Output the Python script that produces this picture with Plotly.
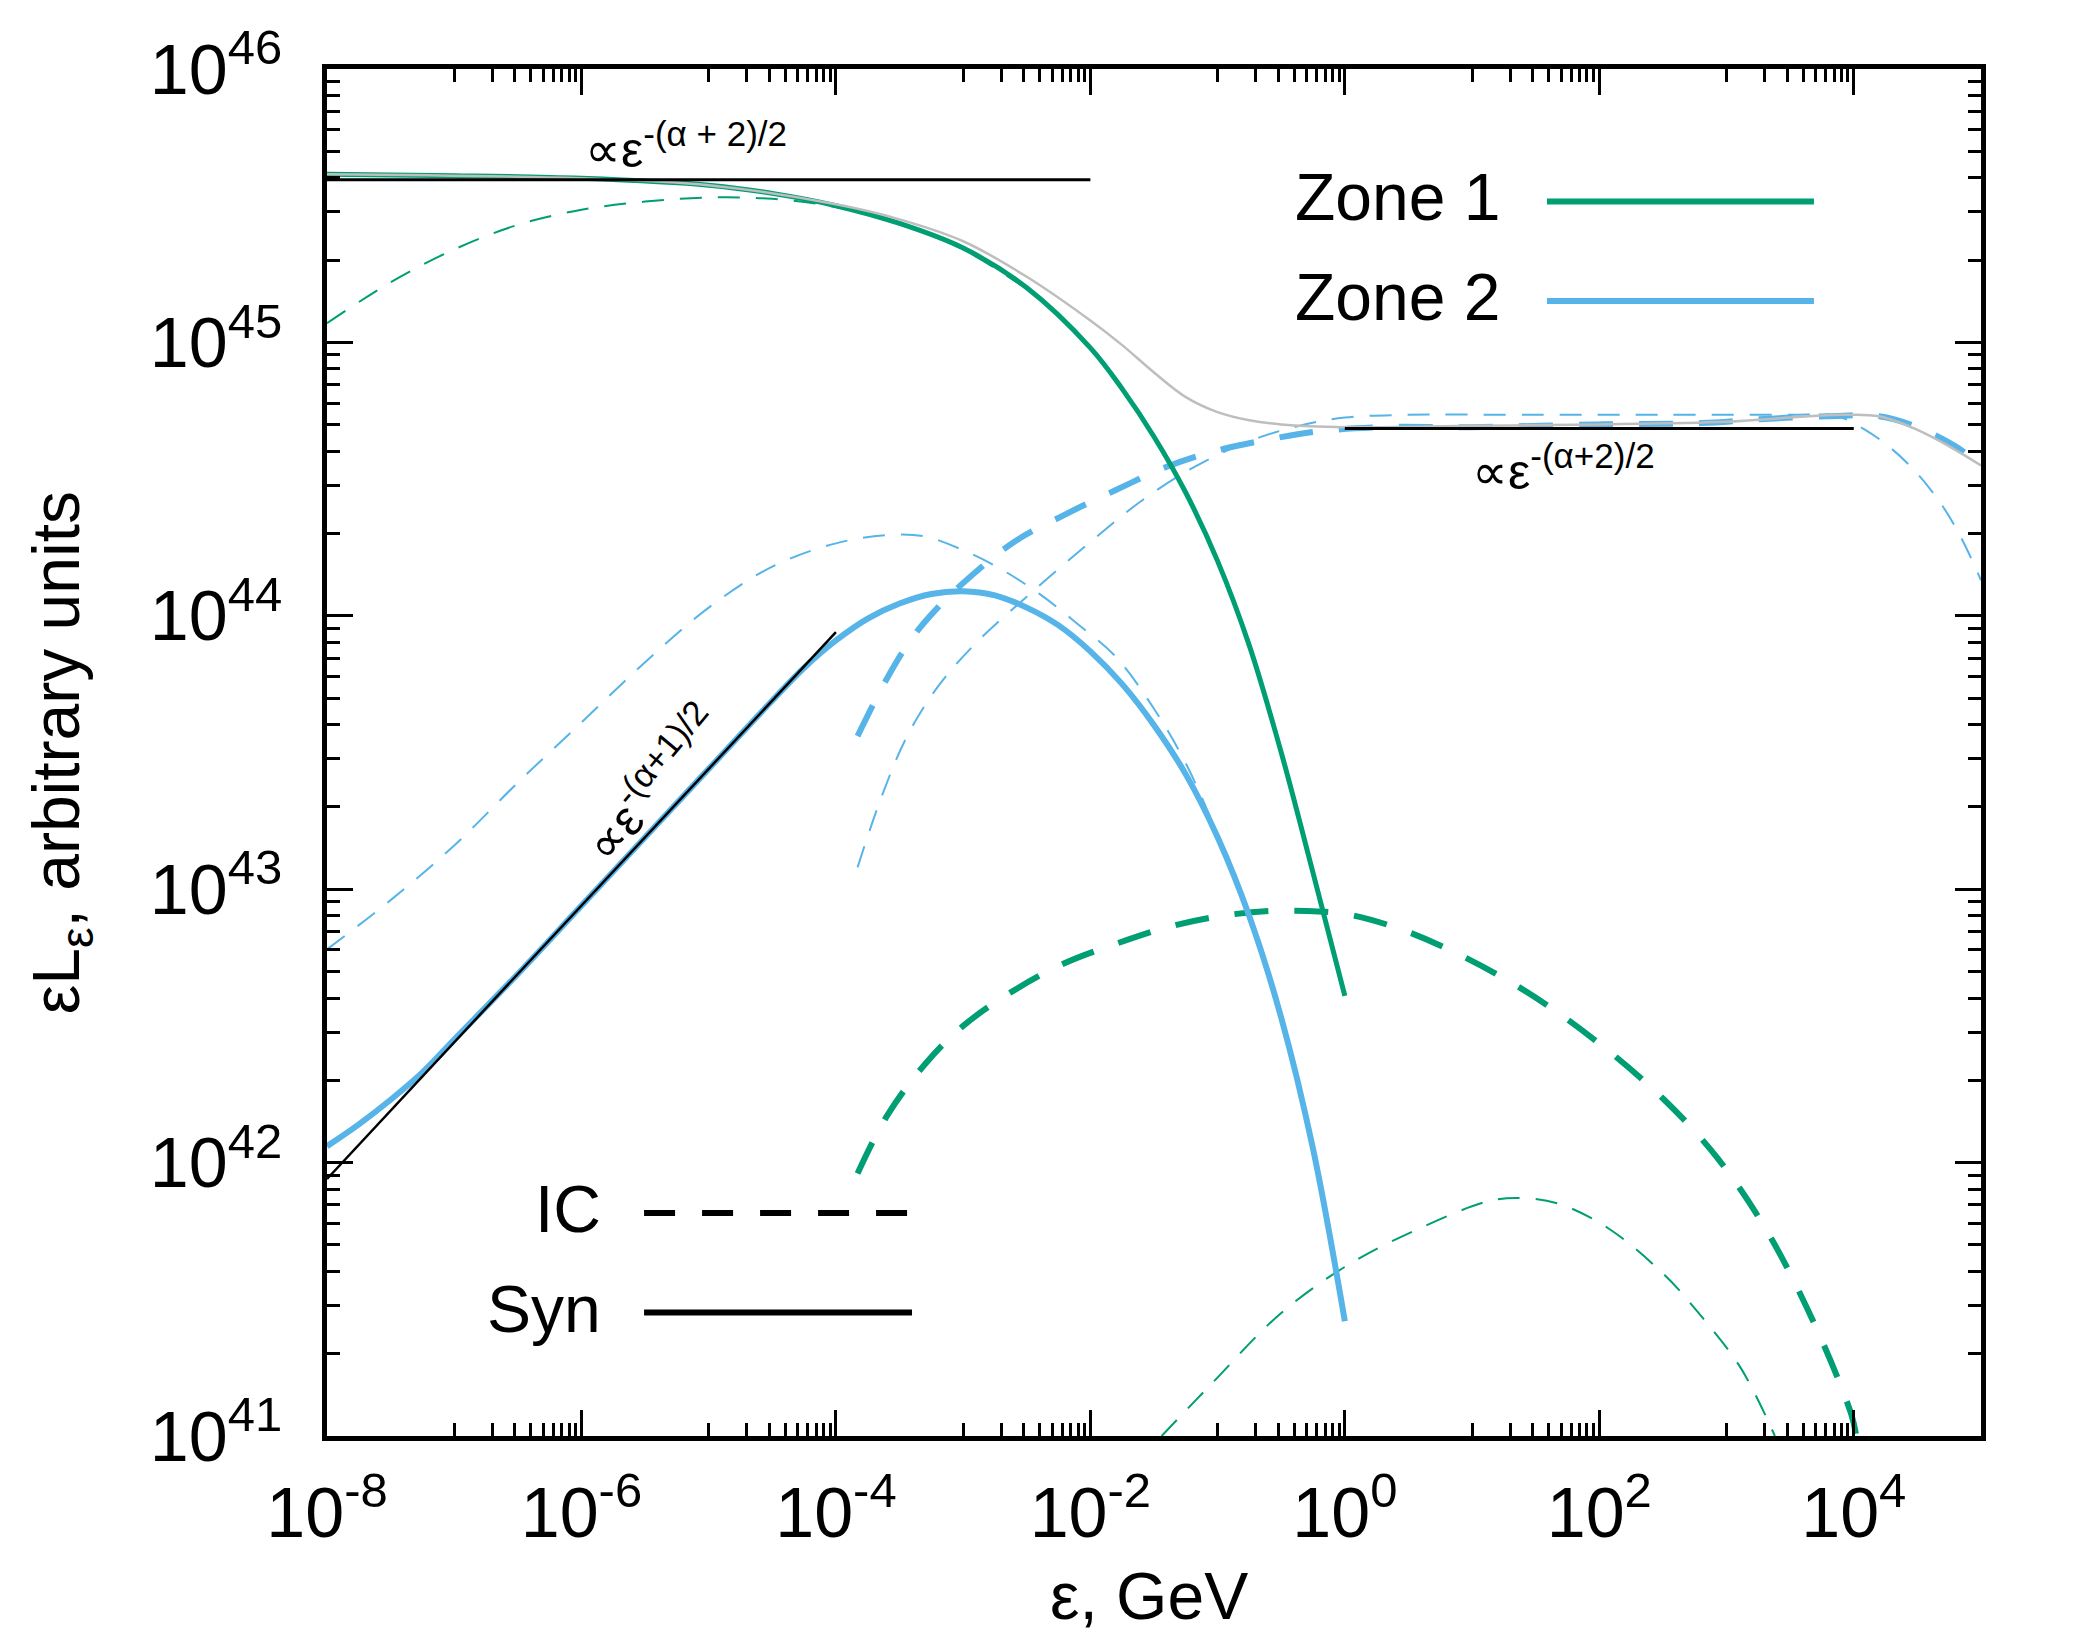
import numpy as np
import plotly.graph_objects as go

# values: log10(eps / GeV) and log10(eps L_eps)
syn1_loge = [-8, -7, -6, -5, -4.5, -4, -3.5, -3, -2.5, -2, -1.75, -1.5, -1.25, -1, -0.75, -0.5, -0.25, 0]
syn1_logl = [45.615, 45.61, 45.6, 45.575, 45.545, 45.5, 45.435, 45.345, 45.2, 44.98, 44.83, 44.655, 44.45, 44.2, 43.89, 43.5, 43.06, 42.61]

syn1_part_loge = [-8, -7.5, -7, -6.5, -6, -5.5, -5, -4.5, -4, -3.5, -3, -2.5]
syn1_part_logl = [45.07, 45.22, 45.34, 45.43, 45.485, 45.515, 45.53, 45.525, 45.495, 45.435, 45.34, 45.195]

ic1_loge = [-3.83, -3.6, -3.3, -3.0, -2.6, -2.2, -1.8, -1.4, -1.0, -0.6, -0.3, 0, 0.4, 0.86, 1.41, 1.96, 2.51, 2.94, 3.33, 3.71, 3.98, 4.02]
ic1_logl = [41.96, 42.17, 42.36, 42.5, 42.63, 42.73, 42.8, 42.86, 42.9, 42.92, 42.92, 42.91, 42.86, 42.77, 42.63, 42.45, 42.23, 42.01, 41.74, 41.39, 41.08, 41.0]

ic1_part_loge = [-1.44, -1.05, -0.5, 0.04, 0.59, 1.14, 1.41, 1.68, 2.07, 2.51, 2.78, 3.11, 3.38]
ic1_part_logl = [41.0, 41.19, 41.45, 41.63, 41.76, 41.86, 41.87, 41.85, 41.76, 41.59, 41.45, 41.25, 41.0]

syn2_loge = [-8, -7.75, -7.5, -7.25, -7, -6.5, -6, -5.5, -5, -4.5, -4.25, -4, -3.75, -3.5, -3.25, -3, -2.75, -2.5, -2.25, -2, -1.75, -1.5, -1.25, -1, -0.75, -0.5, -0.25, 0]
syn2_logl = [42.06, 42.14, 42.23, 42.33, 42.45, 42.69, 42.94, 43.19, 43.44, 43.69, 43.81, 43.91, 43.99, 44.045, 44.08, 44.09, 44.075, 44.03, 43.965, 43.87, 43.75, 43.6, 43.42, 43.19, 42.9, 42.53, 42.05, 41.42]

syn2_part_loge = [-8, -7.5, -7, -6.5, -6, -5.5, -5, -4.5, -4, -3.6, -3.3, -3, -2.7, -2.4, -2.1, -1.8, -1.5, -1.25, -1, -0.75, -0.5, -0.25, 0]
syn2_part_logl = [42.78, 42.96, 43.16, 43.39, 43.61, 43.83, 44.03, 44.18, 44.265, 44.295, 44.29, 44.24, 44.17, 44.08, 43.97, 43.85, 43.66, 43.46, 43.2, 42.91, 42.54, 42.06, 41.43]

ic2_loge = [-3.83, -3.6, -3.4, -3.2, -3.0, -2.6, -2.2, -1.8, -1.4, -1.0, -0.6, -0.2, 0.3, 1, 2, 2.8, 3.3, 3.8, 4.2, 4.5, 4.8, 5]
ic2_logl = [43.56, 43.77, 43.92, 44.03, 44.12, 44.27, 44.37, 44.46, 44.545, 44.605, 44.645, 44.675, 44.69, 44.69, 44.7, 44.705, 44.72, 44.73, 44.73, 44.69, 44.62, 44.55]

ic2_part_loge = [-3.83, -3.64, -3.44, -3.2, -2.9, -2.5, -2.0, -1.6, -1.2, -0.8, -0.4, 0, 0.5, 1.5, 2.5, 3.5, 3.87, 4.09, 4.3, 4.5, 4.7, 4.85, 5]
ic2_part_logl = [43.08, 43.34, 43.56, 43.74, 43.9, 44.07, 44.27, 44.42, 44.54, 44.63, 44.69, 44.725, 44.735, 44.735, 44.735, 44.735, 44.73, 44.68, 44.61, 44.52, 44.4, 44.28, 44.13]

total_loge = [-8, -6, -5, -4, -3.5, -3, -2.5, -2, -1.75, -1.5, -1.25, -1, -0.75, -0.5, 0, 1, 2, 3, 3.5, 3.9, 4.2, 4.5, 4.75, 5]
total_logl = [45.615, 45.6, 45.575, 45.505, 45.45, 45.37, 45.24, 45.08, 44.99, 44.89, 44.8, 44.745, 44.715, 44.7, 44.69, 44.695, 44.7, 44.71, 44.725, 44.735, 44.73, 44.68, 44.62, 44.55]

# power-law guides
flat_hi_loge = [-8, -2]
flat_hi_logl = [45.595, 45.595]
flat_lo_loge = [0, 4]
flat_lo_logl = [44.685, 44.685]
slope_loge = [-8, -4]
slope_logl = [41.94, 43.94]

x_major = [-8, -6, -4, -2, 0, 2, 4]
x_minor_decades = [-7, -5, -3, -1, 1, 3]
y_major = [41, 42, 43, 44, 45, 46]

green = "#009E73"
blue = "#56B4E9"
grey = "#BEBEBE"
FONT = "Liberation Sans"


def curve(loge, logl, color, width, dash="solid"):
    return go.Scatter(
        x=10 ** np.array(loge, dtype=float),
        y=10 ** np.array(logl, dtype=float),
        mode="lines",
        line=dict(color=color, width=width, dash=dash, shape="spline", smoothing=1.0),
        showlegend=False,
        hoverinfo="skip",
    )


thin = "22px,16px"
thick = "34px,26px"

fig = go.Figure()
fig.add_trace(curve(syn1_part_loge, syn1_part_logl, green, 2, thin))
fig.add_trace(curve(ic1_part_loge, ic1_part_logl, green, 2, thin))
fig.add_trace(curve(syn2_part_loge, syn2_part_logl, blue, 2, thin))
fig.add_trace(curve(ic2_part_loge, ic2_part_logl, blue, 2, thin))
fig.add_trace(curve(ic2_loge, ic2_logl, blue, 6, thick))
fig.add_trace(curve(ic1_loge, ic1_logl, green, 6, thick))
fig.add_trace(curve(syn2_loge, syn2_logl, blue, 6))
fig.add_trace(curve(syn1_loge, syn1_logl, green, 5))
fig.add_trace(curve(total_loge, total_logl, grey, 2.5))
fig.add_trace(curve(flat_hi_loge, flat_hi_logl, "black", 3))
fig.add_trace(curve(flat_lo_loge, flat_lo_logl, "black", 3))
fig.add_trace(curve(slope_loge, slope_logl, "black", 2.5))

axis_common = dict(
    type="log",
    showline=True,
    linewidth=4.5,
    linecolor="black",
    mirror="ticks",
    ticks="inside",
    ticklen=26,
    tickwidth=3,
    tickcolor="black",
    showgrid=False,
    zeroline=False,
    tickfont=dict(family=FONT, size=70, color="black"),
)

fig.update_xaxes(
    **axis_common,
    range=[-8, 5],
    tickvals=[10.0 ** e for e in x_major],
    ticktext=[f"10<sup>{e}</sup>" for e in x_major],
    ticklabelstandoff=12,
    minor=dict(
        tickvals=[k * 10.0 ** e for e in x_minor_decades for k in range(1, 10)],
        ticks="inside", ticklen=13, tickwidth=3, tickcolor="black", showgrid=False,
    ),
)
fig.update_yaxes(
    **axis_common,
    range=[41, 46],
    tickvals=[10.0 ** e for e in y_major],
    ticktext=[f"10<sup>{e}</sup>" for e in y_major],
    ticklabelstandoff=26,
    minor=dict(
        tickvals=[k * 10.0 ** e for e in y_major[:-1] for k in range(2, 10)],
        ticks="inside", ticklen=13, tickwidth=3, tickcolor="black", showgrid=False,
    ),
)

txt = dict(family=FONT, size=66, color="black")
note = dict(family=FONT, size=50, color="black")

annotations = [
    dict(text="εL<sub>ε</sub>, arbitrary units", xref="paper", yref="paper", x=-0.161, y=0.5,
         textangle=-90, showarrow=False, font=txt, xanchor="center", yanchor="middle"),
    dict(text="ε, GeV", xref="paper", yref="paper", x=0.497, y=-0.117,
         showarrow=False, font=txt, xanchor="center", yanchor="middle"),
    dict(text="Zone 1", xref="paper", yref="paper", x=0.7104, y=0.906,
         showarrow=False, font=txt, xanchor="right", yanchor="middle"),
    dict(text="Zone 2", xref="paper", yref="paper", x=0.7104, y=0.833,
         showarrow=False, font=txt, xanchor="right", yanchor="middle"),
    dict(text="IC", xref="paper", yref="paper", x=0.1669, y=0.166,
         showarrow=False, font=txt, xanchor="right", yanchor="middle"),
    dict(text="Syn", xref="paper", yref="paper", x=0.1669, y=0.093,
         showarrow=False, font=txt, xanchor="right", yanchor="middle"),
    # annotations on log axes take log10 coordinates
    dict(text="∝ε<sup>-(α + 2)/2</sup>", x=-5.99, y=45.72, xref="x", yref="y",
         showarrow=False, font=note, xanchor="left", yanchor="middle"),
    dict(text="∝ε<sup>-(α+2)/2</sup>", x=0.98, y=44.54, xref="x", yref="y",
         showarrow=False, font=note, xanchor="left", yanchor="middle"),
    dict(text="∝ε<sup>-(α+1)/2</sup>", x=-5.45, y=43.39, xref="x", yref="y",
         showarrow=False, font=note, xanchor="center", yanchor="middle", textangle=-50),
]

shapes = [
    dict(type="line", xref="paper", yref="paper", x0=0.7376, x1=0.899, y0=0.9031, y1=0.9031,
         line=dict(color=green, width=6)),
    dict(type="line", xref="paper", yref="paper", x0=0.7376, x1=0.899, y0=0.8303, y1=0.8303,
         line=dict(color=blue, width=6)),
    dict(type="line", xref="paper", yref="paper", x0=0.1917, x1=0.3537, y0=0.1631, y1=0.1631,
         line=dict(color="black", width=6, dash="31px,27px")),
    dict(type="line", xref="paper", yref="paper", x0=0.1917, x1=0.3537, y0=0.0903, y1=0.0903,
         line=dict(color="black", width=6)),
]

# the page body adds an 8px margin, so the figure is a little smaller than the window
fig.update_layout(
    width=2084,
    height=1634,
    autosize=False,
    margin=dict(l=319, r=111, t=55, b=206),
    paper_bgcolor="white",
    plot_bgcolor="white",
    showlegend=False,
    annotations=annotations,
    shapes=shapes,
)

fig.write_html("out.html")
